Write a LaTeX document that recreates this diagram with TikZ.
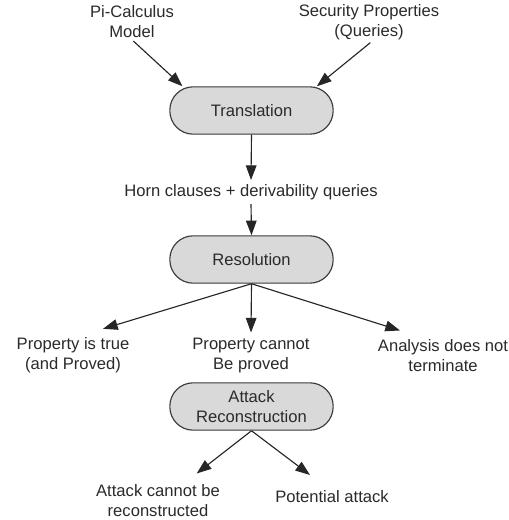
\documentclass[tikz,border=0pt]{standalone}
\usepackage{fontspec}
\setmainfont{Liberation Sans}
\usetikzlibrary{arrows.meta}
\definecolor{boxfill}{HTML}{D9D9D9}
\definecolor{boxline}{HTML}{3A3A3A}
\definecolor{inkgray}{HTML}{2A2A2A}
\begin{document}
\begin{tikzpicture}[x=0.75pt,y=-0.75pt,
  every node/.style={font=\fontsize{12.45pt}{15pt}\selectfont, text=inkgray, align=center, inner sep=2pt},
  stage/.style={draw=boxline, fill=boxfill, line width=0.85pt, rounded corners=17.5pt,
    minimum width=122.5pt, minimum height=35.5pt, inner sep=0pt},
  label/.style={},
  flow/.style={draw=black!85, line width=0.85pt, -{Triangle[length=11pt,width=8pt]}}]
  \useasboundingbox (0,0) rectangle (509,520);

  % inputs
  \node[label] (pi) at (132,22) {Pi-Calculus\\Model};
  \node[label] (sec) at (369,22) {Security Properties\\(Queries)};

  % translation stage
  \node[stage] (trans) at (251.5,110.5) {Translation};
  \node[label] (horn) at (251,192) {Horn clauses + derivability queries};

  % resolution stage
  \node[stage] (res) at (251.5,259.5) {Resolution};

  % outcomes
  \node[label] (ptrue) at (73,355.5) {Property is true\\(and Proved)};
  \node[label] (pnot) at (251,355.5) {Property cannot\\Be proved};
  \node[label] (nonterm) at (443,355.5) {Analysis does not\\terminate};

  % attack reconstruction
  \node[stage, align=center] (att) at (251.5,406.5) {Attack\\Reconstruction};
  \node[label] (nocon) at (158,500.5) {Attack cannot be\\reconstructed};
  \node[label] (pot) at (332,497) {Potential attack};

  % connectors
  \draw[flow] ([xshift=1pt]pi.south) -- ([xshift=-51.75pt]trans.north);
  \draw[flow] ([xshift=1pt]sec.south) -- ([xshift=49pt]trans.north);
  \draw[flow] (trans.south) -- ([yshift=1pt]horn.north);
  \draw[flow] ([yshift=-1pt]horn.south) -- (res.north);
  \draw[flow] (res.south) -- ([xshift=22.5pt,yshift=4.5pt]ptrue.north);
  \draw[flow] (res.south) -- ([yshift=2pt]pnot.north);
  \draw[flow] (res.south) -- ([xshift=-32.25pt,yshift=4.5pt]nonterm.north);
  \draw[flow] (att.south) -- ([xshift=29pt,yshift=6pt]nocon.north);
  \draw[flow] (att.south) -- ([xshift=-16.5pt,yshift=9.75pt]pot.north);
\end{tikzpicture}
\end{document}
